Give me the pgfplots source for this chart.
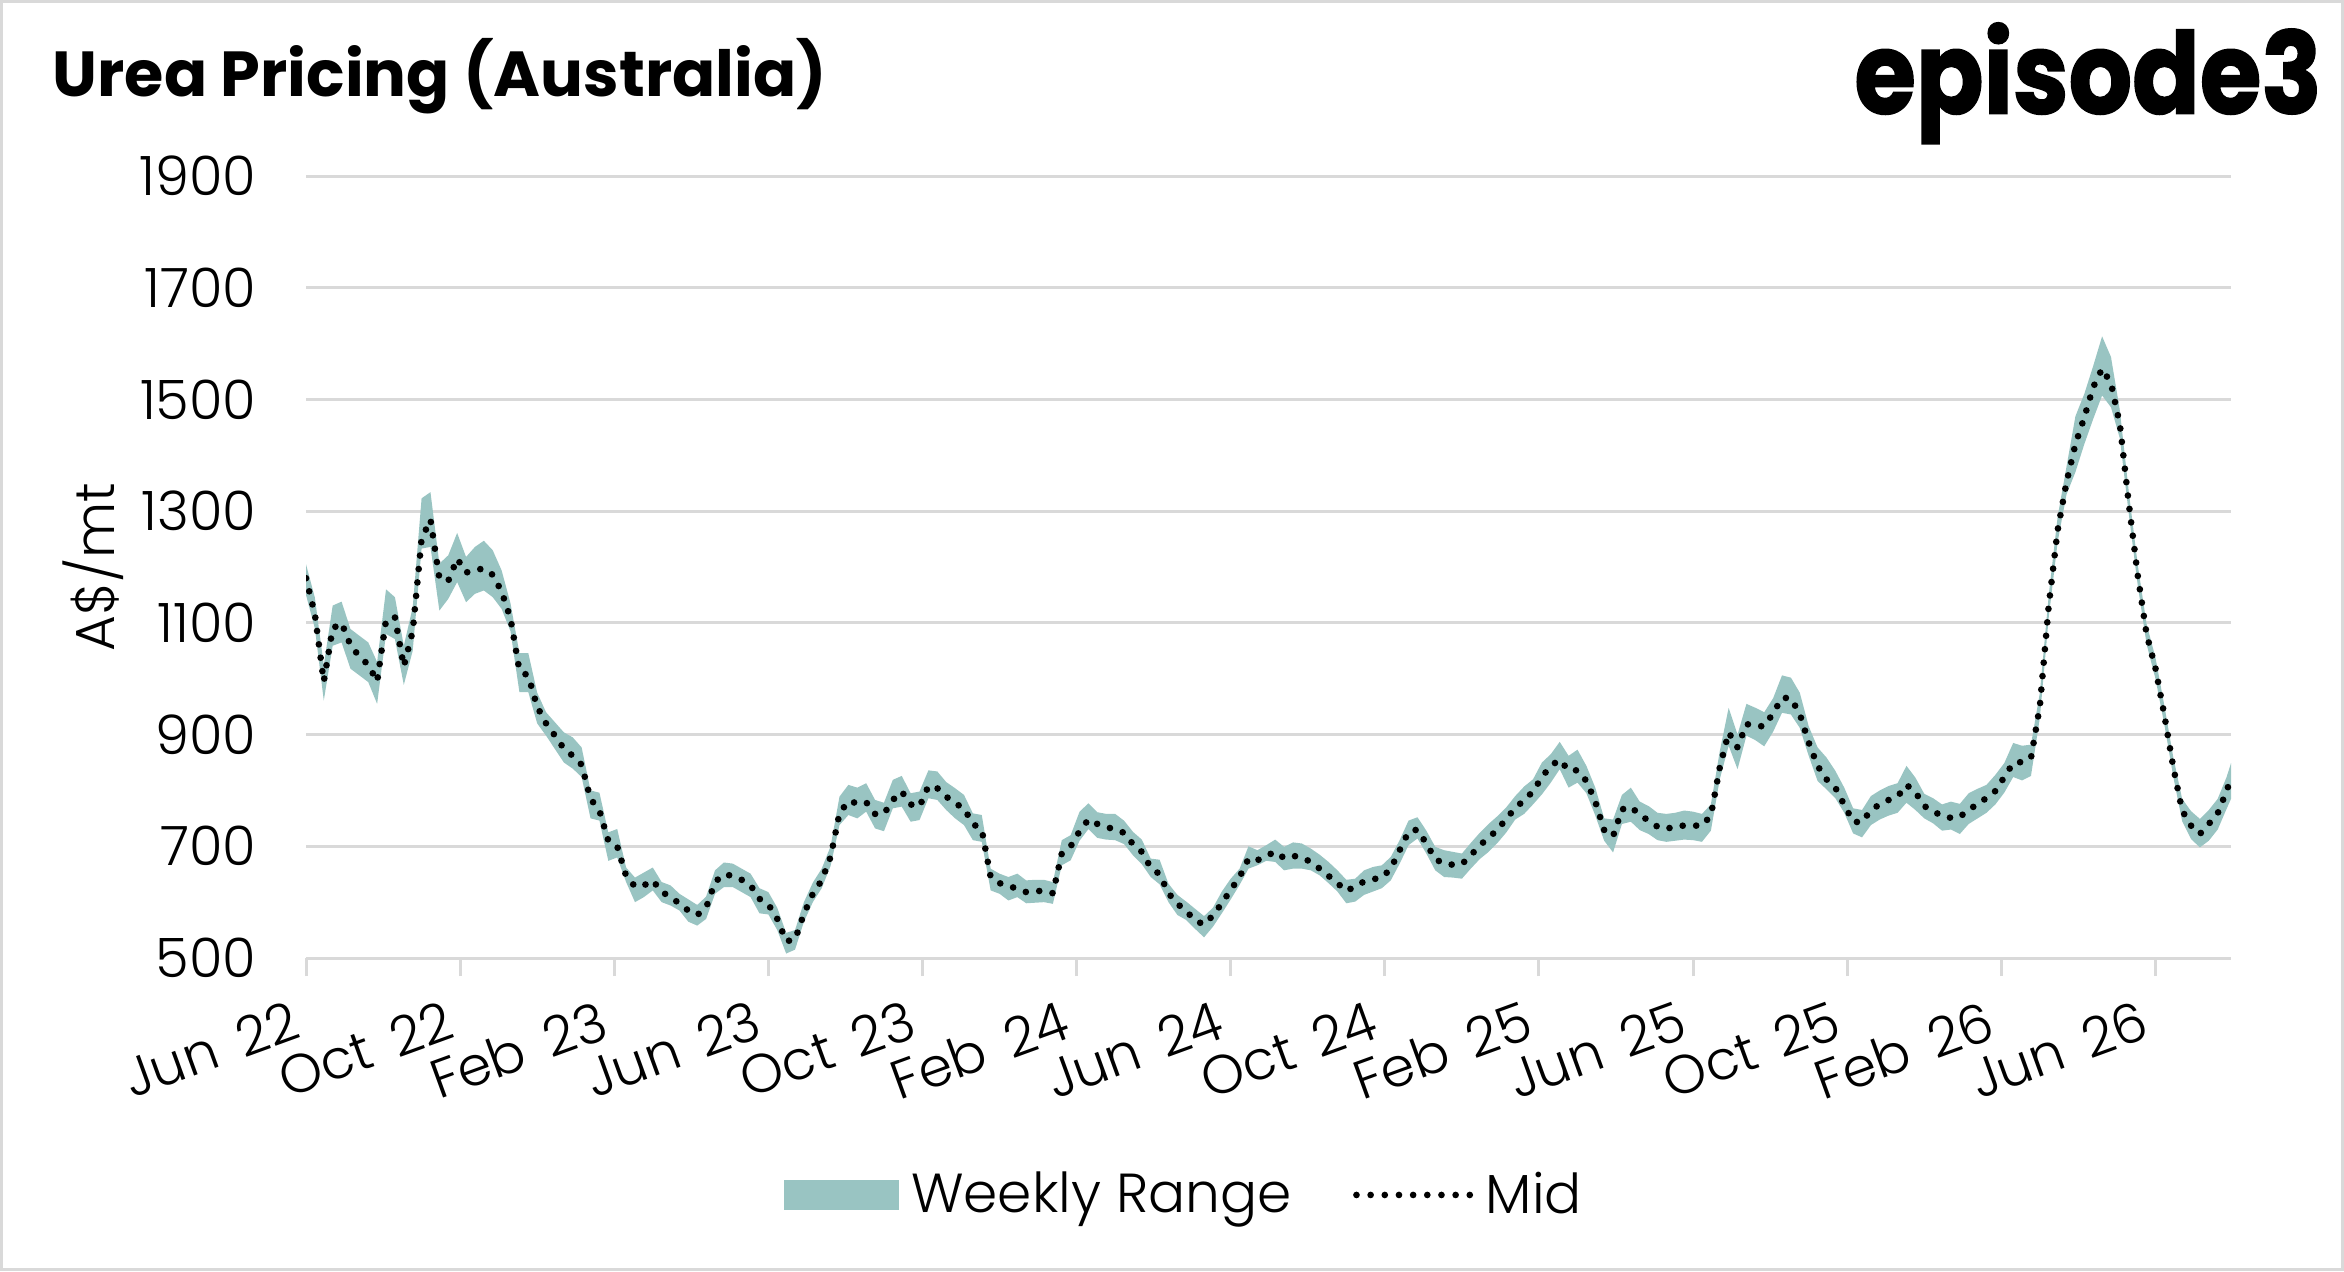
\documentclass[border=0pt]{standalone}
\usepackage{fontspec}
\setmainfont{Poppins}[UprightFont=* Light, BoldFont=* Bold]
\newfontfamily\logofont{Poppins}[UprightFont=* Bold, FakeBold=1.5]
\usepackage{pgfplots}
\usepackage{pgfplotstable}
\usepgfplotslibrary{fillbetween}
\pgfplotsset{compat=1.18}
\definecolor{bandcol}{RGB}{153,196,194}
\definecolor{gridcol}{RGB}{217,217,217}
\newcommand{\tsp}{\hspace{0.42em}}
\pgfplotstableread{
w lo mid hi
0 1150 1180 1205
1 1090 1115 1145
2 961 995 1024
3 1059 1090 1131
4 1065 1100 1138
5 1018 1060 1089
6 1006 1040 1077
7 994 1025 1065
8 955 995 1030
9 1080 1105 1160
10 1071 1110 1146
11 989 1022 1059
12 1050 1085 1128
13 1233 1250 1323
14 1236 1285 1334
15 1122 1180 1206
16 1143 1175 1221
17 1173 1215 1261
18 1137 1190 1218
19 1152 1195 1236
20 1158 1197 1247
21 1146 1186 1230
22 1125 1156 1194
23 1085 1108 1135
24 976 1015 1046
25 976 1005 1046
26 920 950 975
27 898 920 940
28 874 898 922
29 850 875 904
30 839 862 895
31 824 846 877
32 750 785 800
33 746 764 796
34 674 710 725
35 680 700 731
36 636 647 662
37 600 628 644
38 609 630 653
39 621 639 662
40 600 618 636
41 594 610 630
42 585 597 615
43 565 585 605
44 558 577 595
45 570 590 610
46 615 636 657
47 627 650 671
48 627 647 669
49 618 640 660
50 609 630 651
51 580 606 625
52 578 596 618
53 550 570 590
54 508 530 545
55 515 533 550
56 565 579 600
57 600 615 635
58 625 639 660
59 665 681 700
60 738 759 789
61 756 781 810
62 750 777 805
63 762 779 813
64 732 758 783
65 727 758 778
66 768 783 819
67 771 798 826
68 744 775 795
69 747 771 798
70 786 808 836
71 783 804 834
72 765 789 815
73 750 777 804
74 738 768 792
75 711 740 759
76 708 730 756
77 621 645 660
78 615 634 651
79 603 629 645
80 609 624 651
81 598 618 639
82 599 620 640
83 600 620 640
84 597 616 636
85 666 687 711
86 675 700 720
87 710 727 762
88 731 748 777
89 715 740 761
90 712 734 758
91 711 731 758
92 704 724 746
93 684 704 726
94 668 690 712
95 645 662 678
96 632 650 676
97 600 616 633
98 577 597 613
99 568 584 601
100 552 567 588
101 537 560 575
102 556 576 590
103 580 598 619
104 605 622 642
105 631 645 660
106 660 678 700
107 666 675 693
108 674 683 702
109 672 690 712
110 657 679 699
111 660 683 707
112 660 680 705
113 657 672 696
114 648 660 685
115 634 647 672
116 619 634 657
117 598 620 640
118 601 628 642
119 613 637 657
120 619 641 663
121 625 644 666
122 639 660 681
123 669 693 711
124 702 726 746
125 714 730 752
126 687 705 728
127 657 677 699
128 645 669 693
129 644 667 690
130 642 668 687
131 660 684 706
132 677 701 724
133 690 716 740
134 706 729 754
135 725 750 770
136 748 768 790
137 758 783 807
138 775 798 820
139 793 824 850
140 814 844 865
141 838 855 887
142 805 836 862
143 814 836 873
144 795 817 844
145 755 780 805
146 710 729 750
147 689 718 748
148 740 766 792
149 744 771 805
150 729 756 780
151 722 746 772
152 711 735 760
153 708 731 758
154 710 736 760
155 712 737 764
156 711 737 762
157 708 737 758
158 728 755 775
159 820 841 870
160 880 904 948
161 838 877 900
162 898 919 955
163 890 915 948
164 879 915 940
165 905 938 965
166 939 966 1006
167 936 965 1002
168 912 937 975
169 862 886 915
170 817 844 877
171 802 820 859
172 786 805 835
173 760 774 805
174 723 744 768
175 716 743 765
176 738 765 790
177 748 775 800
178 755 783 808
179 760 789 813
180 778 810 844
181 765 797 823
182 750 772 794
183 741 763 786
184 728 754 775
185 730 751 780
186 722 752 776
187 740 767 795
188 750 774 803
189 760 787 810
190 775 799 828
191 796 824 849
192 824 849 885
193 818 851 880
194 826 858 882
195 930 951 975
196 1110 1131 1150
197 1245 1266 1290
198 1330 1352 1380
199 1370 1420 1470
200 1420 1468 1510
201 1465 1522 1560
202 1507 1555 1613
203 1486 1529 1576
204 1430 1455 1480
205 1295 1314 1335
206 1168 1186 1205
207 1062 1080 1098
208 1000 1019 1038
209 918 935 952
210 825 842 860
211 745 764 785
212 713 737 763
213 698 722 749
214 710 740 765
215 730 759 785
216 767 799 824
216.5 785 822 849
}\data
\begin{document}
\begin{tikzpicture}
\draw[gridcol, line width=0.9pt] (0.45pt,0.45pt) rectangle (702.75pt,380.85pt);
\node[anchor=base west, inner sep=0pt, font=\fontsize{19.1pt}{22pt}\selectfont\bfseries] at (15.6pt,352.2pt) {Urea Pricing (Australia)};
\node[anchor=base east, inner sep=0pt] at (696.7pt,347.25pt) {\scalebox{0.88}[1]{\fontsize{34pt}{36pt}\selectfont\logofont episode3}};
\begin{axis}[
  at={(91.8pt,93.9pt)}, anchor=south west,
  scale only axis, width=577.5pt, height=234.6pt,
  xmin=0, xmax=216.5, ymin=500, ymax=1900,
  axis line style={draw=none},
  ytick={500,700,...,1900},
  ymajorgrids, grid style={gridcol, line width=0.9pt},
  xtick={0,17.3333,34.6667,52,69.3333,86.6667,104,121.3333,138.6667,156,173.3333,190.6667,208},
  xticklabels={Jun\tsp22,Oct\tsp22,Feb\tsp23,Jun\tsp23,Oct\tsp23,Feb\tsp24,Jun\tsp24,Oct\tsp24,Feb\tsp25,Jun\tsp25,Oct\tsp25,Feb\tsp26,Jun\tsp26},
  tick pos=left, tick align=outside,
  major tick length=5.4pt,
  xtick style={gridcol, line width=0.9pt},
  ytick style={draw=none},
  /pgf/number format/assume math mode=true,
  yticklabel={\pgfmathprintnumber[1000 sep={}]{\tick}},
  ticklabel style={font=\fontsize{16.3pt}{19pt}\selectfont},
  yticklabel style={anchor=east, inner sep=0pt, xshift=-9.3pt},
  xticklabel style={xshift=-5pt, yshift=-6.8pt, rotate=20, anchor=north east, inner sep=0pt},
  ylabel={A\$/mt},
  ylabel style={at={(axis description cs:-0.1107,0.5)}, anchor=center, font=\fontsize{16.5pt}{19pt}\selectfont},
  legend columns=2,
  legend style={at={(axis description cs:0.4572,-0.303)}, anchor=center, draw=none, fill=none,
    font=\fontsize{16.5pt}{19pt}\selectfont,
    /tikz/every odd column/.append style={column sep=1.8pt},
    /tikz/every even column/.append style={column sep=16.4pt}},
  legend cell align=left,
]
\addplot[name path=U, draw=none, forget plot] table[x=w, y=hi] {\data};
\addplot[name path=L, draw=none, forget plot] table[x=w, y=lo] {\data};
\addplot[fill=bandcol, draw=none,
  legend image code/.code={\fill[bandcol] (0pt,-4.5pt) rectangle (34.5pt,4.5pt);}]
  fill between[of=U and L];
\addlegendentry{Weekly Range}
\addplot[black, line width=2pt, line cap=round, dash pattern=on 0pt off 4.05pt,
  legend image code/.code={\draw[black, line width=2pt, line cap=round, dash pattern=on 0pt off 4.25pt] (0pt,0pt) -- (34.05pt,0pt);}]
  table[x=w, y=mid] {\data};
\addlegendentry{Mid}
\end{axis}
\end{tikzpicture}
\end{document}
